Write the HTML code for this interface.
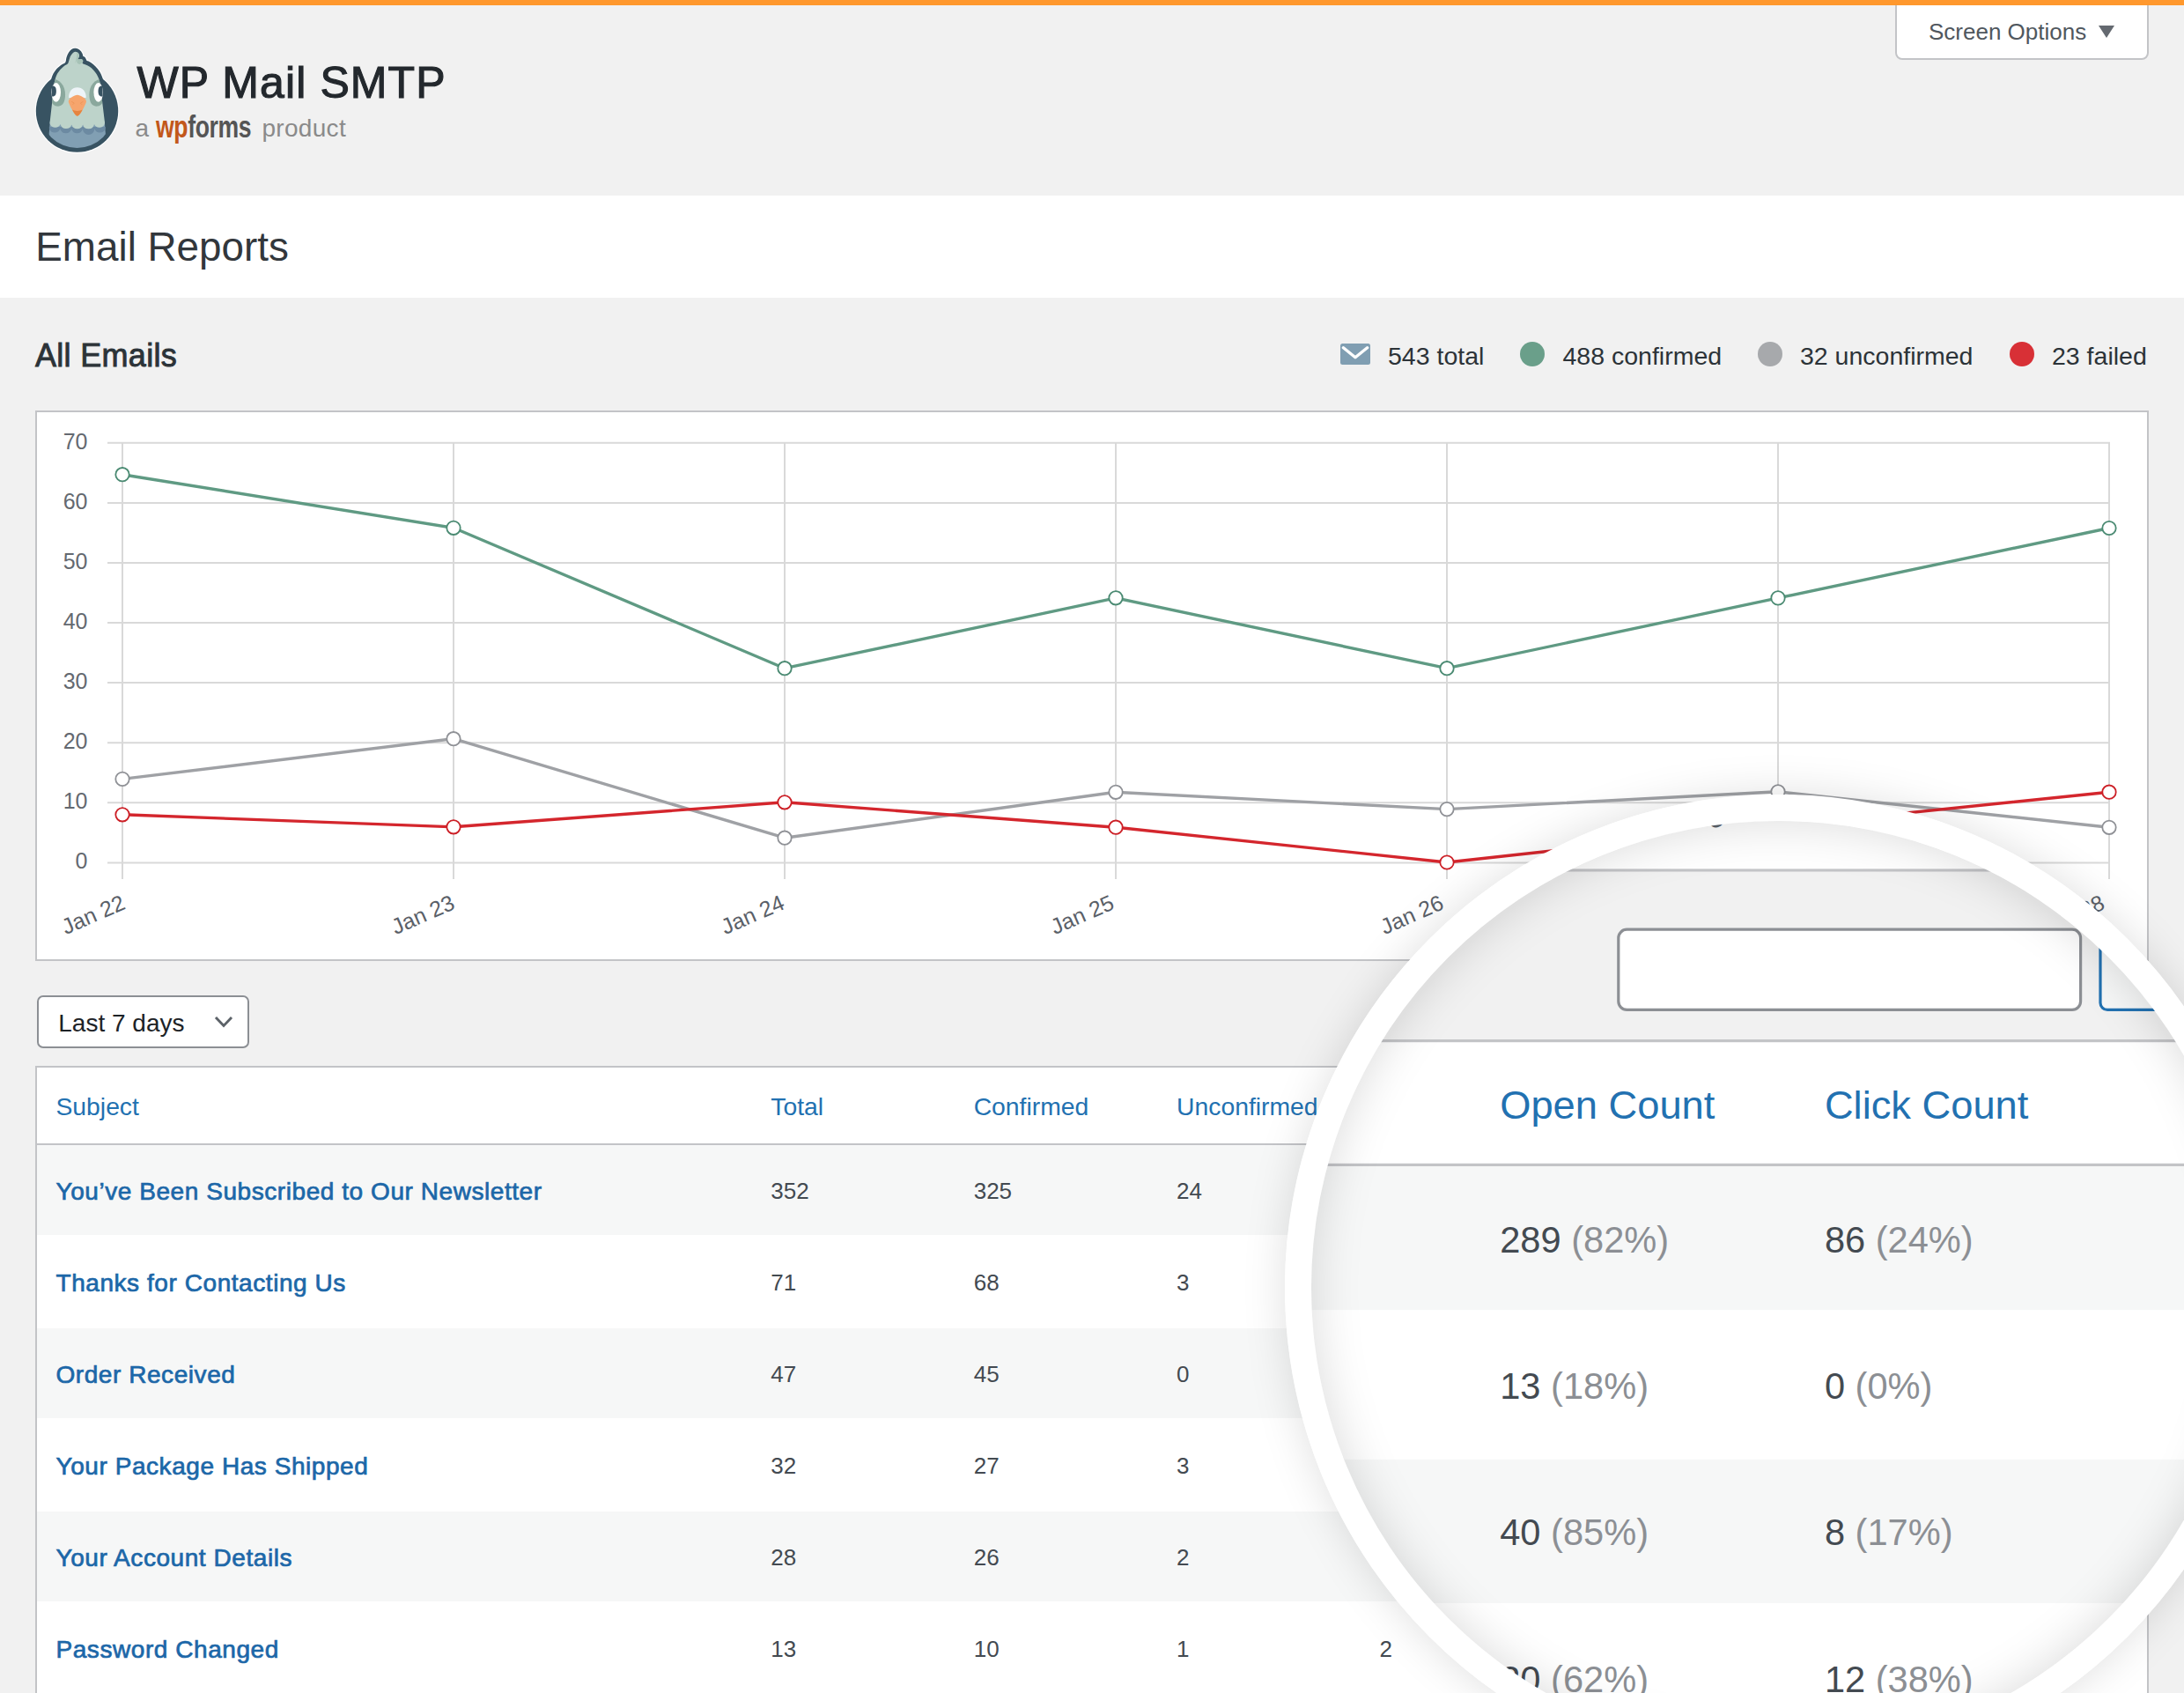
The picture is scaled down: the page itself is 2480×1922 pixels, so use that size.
<!DOCTYPE html>
<html lang="en"><head><meta charset="utf-8"><title>Email Reports - WP Mail SMTP</title>
<style>
html,body{margin:0;padding:0;background:#f1f1f1}
body{width:2480px;height:1922px;overflow:hidden;background:#f1f1f1;position:relative;font-family:"Liberation Sans",sans-serif;color:#434a51}
.t{position:absolute;white-space:nowrap}
.abs{position:absolute}
.page{position:absolute;left:0;top:0;width:2480px;height:1922px;background:#f1f1f1}
.b{color:#2271b1}
.sb{color:#1c67a8;-webkit-text-stroke:0.7px #1c67a8;letter-spacing:0.56px}
.g{color:#8c8f94}
</style></head>
<body>
<div class="page">
<div class="abs" style="left:0;top:0;width:2480px;height:6px;background:#ff982d"></div>
<div class="abs" style="left:2152px;top:-4px;width:288px;height:72px;box-sizing:border-box;border:2px solid #c3c4c7;border-radius:0 0 8px 8px;background:#fff"></div>
<div class="abs" style="left:0;top:0;width:2480px;height:6px;background:#ff982d"></div>
<div class="t" style="left:2190px;top:22.9px;font-size:26px;line-height:26px;color:#50575e">Screen Options</div>
<svg class="abs" style="left:2383px;top:29px" width="18" height="14" viewBox="0 0 18 14"><path d="M0 0H18L9 14Z" fill="#646970"/></svg>
<svg class="abs" style="left:20px;top:40px" width="140" height="150" viewBox="0 0 1580 1693">
<defs><clipPath id="pgc"><circle cx="762" cy="972" r="472"/></clipPath>
<clipPath id="pgh"><path d="M471 605C476 590 486 540 499 513C512 486 530 461 547 441C564 421 583 406 599 393C615 380 633 377 643 365C653 353 653 338 659 321C665 304 671 280 679 265C687 250 698 238 707 229C716 220 726 215 735 213C744 211 755 214 763 217C771 220 778 226 783 233C788 240 790 249 791 257C792 265 790 273 787 281C784 289 770 300 771 305C772 310 784 309 791 309C798 309 808 304 815 305C822 306 831 312 835 317C839 322 840 330 839 337C838 344 828 351 831 357C834 363 844 366 859 373C874 380 900 389 919 401C938 413 956 429 971 445C986 461 1000 479 1011 497C1022 515 1032 535 1039 553C1046 571 1052 596 1055 605L1118 1125A72 72 0 0 1 982 1140A75 75 0 0 1 836 1145A75 75 0 0 1 692 1145A75 75 0 0 1 548 1140A72 72 0 0 1 412 1125Z"/></clipPath></defs>
<g stroke="#fff" stroke-width="26" stroke-linejoin="round" fill="#fff">
<circle cx="762" cy="972" r="527"/>
<path d="M400 720C402 707 410 662 415 640C420 618 422 606 427 585C432 564 435 538 447 513C459 488 480 456 499 433C518 410 544 391 563 377C582 363 600 365 611 349C622 333 620 302 627 281C634 260 644 238 655 221C666 204 678 190 691 181C704 172 720 168 735 167C750 166 766 170 779 177C792 184 806 197 815 209C824 221 831 239 835 249C839 259 834 264 839 269C844 274 856 274 863 281C870 288 875 302 879 309C883 316 877 318 887 325C897 332 920 336 939 349C958 362 980 382 999 401C1018 420 1037 443 1051 465C1065 487 1075 513 1083 533C1091 553 1094 567 1099 585C1104 603 1108 618 1112 640C1116 662 1123 707 1125 720Z"/>
</g>
<circle cx="762" cy="972" r="527" fill="#385362"/>
<path d="M400 720C402 707 410 662 415 640C420 618 422 606 427 585C432 564 435 538 447 513C459 488 480 456 499 433C518 410 544 391 563 377C582 363 600 365 611 349C622 333 620 302 627 281C634 260 644 238 655 221C666 204 678 190 691 181C704 172 720 168 735 167C750 166 766 170 779 177C792 184 806 197 815 209C824 221 831 239 835 249C839 259 834 264 839 269C844 274 856 274 863 281C870 288 875 302 879 309C883 316 877 318 887 325C897 332 920 336 939 349C958 362 980 382 999 401C1018 420 1037 443 1051 465C1065 487 1075 513 1083 533C1091 553 1094 567 1099 585C1104 603 1108 618 1112 640C1116 662 1123 707 1125 720Z" fill="#385362"/>
<g clip-path="url(#pgc)">
<path d="M415 1100L385 1500H1145L1115 1100Z" fill="#819fb3"/>
<path d="M405 1145H1125V1170A75 75 0 0 1 985 1170A75 75 0 0 1 835 1170A75 75 0 0 1 690 1170A75 75 0 0 1 545 1170A75 75 0 0 1 405 1170Z" transform="translate(0 30)" fill="#6c8aa2"/>
</g>
<path d="M471 605C476 590 486 540 499 513C512 486 530 461 547 441C564 421 583 406 599 393C615 380 633 377 643 365C653 353 653 338 659 321C665 304 671 280 679 265C687 250 698 238 707 229C716 220 726 215 735 213C744 211 755 214 763 217C771 220 778 226 783 233C788 240 790 249 791 257C792 265 790 273 787 281C784 289 770 300 771 305C772 310 784 309 791 309C798 309 808 304 815 305C822 306 831 312 835 317C839 322 840 330 839 337C838 344 828 351 831 357C834 363 844 366 859 373C874 380 900 389 919 401C938 413 956 429 971 445C986 461 1000 479 1011 497C1022 515 1032 535 1039 553C1046 571 1052 596 1055 605L1118 1125A72 72 0 0 1 982 1140A75 75 0 0 1 836 1145A75 75 0 0 1 692 1145A75 75 0 0 1 548 1140A72 72 0 0 1 412 1125Z" fill="#bdd3ca"/>
<path d="M771 305C791 309 815 305 835 317C839 337 831 357 800 372C770 372 745 350 771 305Z" fill="#a6c2b6"/>
<path d="M760 222C790 235 795 275 771 305C760 320 745 345 735 360C745 320 765 270 760 222Z" fill="#a9c5b9"/>
<g>
<path d="M440 560C540 560 610 650 610 760C610 850 580 910 520 910C470 910 430 880 430 800Z" fill="#8aa89d" clip-path="url(#pgh)"/>
<path d="M1088 560C988 560 918 650 918 760C918 850 948 910 1008 910C1058 910 1098 880 1098 800Z" fill="#8aa89d" clip-path="url(#pgh)"/>
<ellipse cx="493" cy="732" rx="60" ry="122" fill="#fff"/>
<ellipse cx="1035" cy="732" rx="60" ry="122" fill="#fff"/>
<path d="M438 650C480 645 495 670 495 718C495 765 480 790 438 785Z" fill="#385362"/>
<path d="M1090 650C1048 645 1033 670 1033 718C1033 765 1048 790 1090 785Z" fill="#385362"/>
</g>
<path d="M655 800C655 720 700 670 765 670C830 670 878 720 878 800Z" fill="#eef4f8"/>
<path d="M765 765C800 765 880 810 880 850C880 870 800 1035 765 1035C730 1035 652 870 652 850C652 810 730 765 765 765Z" fill="#f6a56d"/>
<path d="M700 955C730 975 800 975 832 955C810 1000 785 1035 765 1035C745 1035 722 1000 700 955Z" fill="#e5843f"/>
<path d="M690 850L725 870L705 890M840 850L805 870L825 890" stroke="#ec9457" stroke-width="10" fill="none"/>
</svg>

<div class="t" style="left:155.5px;top:69.1px;font-size:50px;line-height:50px;color:#23282d;letter-spacing:1.1px;-webkit-text-stroke:1.1px #23282d">WP Mail SMTP</div>
<div class="t" style="left:153.5px;top:132.2px;font-size:28px;line-height:28px;color:#8a8a8a">a</div>
<div class="t" style="left:177px;top:126.3px;font-size:35px;line-height:35px;font-weight:bold;transform-origin:0 0;transform:scaleX(0.76);letter-spacing:-0.5px"><span style="color:#c2571a">wp</span><span style="color:#555">forms</span></div>
<div class="t" style="left:297.5px;top:132.2px;font-size:28px;line-height:28px;color:#8a8a8a;letter-spacing:0.3px">product</div>
<div class="abs" style="left:0;top:222px;width:2480px;height:116px;background:#fff"></div>
<div class="t" style="left:40.3px;top:258.0px;font-size:45.8px;line-height:45.8px;color:#32373c">Email Reports</div>
<div class="t" style="left:40px;top:385.8px;font-size:36px;line-height:36px;color:#2c3338;-webkit-text-stroke:0.9px #2c3338;letter-spacing:0.3px">All Emails</div>
<svg class="abs" style="left:1522px;top:390px" width="34" height="24" viewBox="0 0 34 24"><rect width="34" height="24" rx="2.5" fill="#809eb2"/><path d="M3.4 4.7L17 15.7L30.6 4.7" fill="none" stroke="#fff" stroke-width="3.4" stroke-linecap="round" stroke-linejoin="round"/></svg>
<div class="t" style="left:1576px;top:389.7px;font-size:28.5px;line-height:28.5px;color:#2c3338">543 total</div>
<div class="abs" style="left:1726px;top:388px;width:28px;height:28px;border-radius:50%;background:#6a9f8a"></div>
<div class="t" style="left:1774.5px;top:389.7px;font-size:28.5px;line-height:28.5px;color:#2c3338">488 confirmed</div>
<div class="abs" style="left:1996px;top:388px;width:28px;height:28px;border-radius:50%;background:#a7a9ac"></div>
<div class="t" style="left:2044px;top:389.7px;font-size:28.5px;line-height:28.5px;color:#2c3338">32 unconfirmed</div>
<div class="abs" style="left:2282px;top:388px;width:28px;height:28px;border-radius:50%;background:#d83036"></div>
<div class="t" style="left:2330px;top:389.7px;font-size:28.5px;line-height:28.5px;color:#2c3338">23 failed</div>
<div class="abs" style="left:40px;top:466px;width:2400px;height:625px;box-sizing:border-box;border:2px solid #c3c4c7;background:#fff"></div>
<svg class="abs" style="left:40px;top:466px;overflow:visible" width="2400" height="625" viewBox="40 466 2400 625" font-family="Liberation Sans, sans-serif">
<path d="M122 979.4H2396 M122 911.3H2396 M122 843.2H2396 M122 775.1H2396 M122 707.1H2396 M122 639.0H2396 M122 570.9H2396 M122 502.8H2396 M139 501.8V998 M515 501.8V998 M891 501.8V998 M1267 501.8V998 M1643 501.8V998 M2019 501.8V998 M2395 501.8V998" stroke="#d9d9d9" stroke-width="2" fill="none"/>
<text x="99.5" y="986.2" font-size="25" fill="#646970" text-anchor="end">0</text>
<text x="99.5" y="918.1" font-size="25" fill="#646970" text-anchor="end">10</text>
<text x="99.5" y="850.0" font-size="25" fill="#646970" text-anchor="end">20</text>
<text x="99.5" y="781.9" font-size="25" fill="#646970" text-anchor="end">30</text>
<text x="99.5" y="713.9" font-size="25" fill="#646970" text-anchor="end">40</text>
<text x="99.5" y="645.8" font-size="25" fill="#646970" text-anchor="end">50</text>
<text x="99.5" y="577.7" font-size="25" fill="#646970" text-anchor="end">60</text>
<text x="99.5" y="509.6" font-size="25" fill="#646970" text-anchor="end">70</text>
<text transform="translate(143.7 1031.2) rotate(-23.5)" font-size="25" fill="#5a6068" text-anchor="end">Jan 22</text>
<text transform="translate(518.0 1031.2) rotate(-23.5)" font-size="25" fill="#5a6068" text-anchor="end">Jan 23</text>
<text transform="translate(892.4 1031.2) rotate(-23.5)" font-size="25" fill="#5a6068" text-anchor="end">Jan 24</text>
<text transform="translate(1266.7 1031.2) rotate(-23.5)" font-size="25" fill="#5a6068" text-anchor="end">Jan 25</text>
<text transform="translate(1641.1 1031.2) rotate(-23.5)" font-size="25" fill="#5a6068" text-anchor="end">Jan 26</text>
<text transform="translate(2016.0 1031.2) rotate(-23.5)" font-size="25" fill="#5a6068" text-anchor="end">Jan 27</text>
<text transform="translate(2391.6 1031.2) rotate(-23.5)" font-size="25" fill="#5a6068" text-anchor="end">Jan 28</text>
<polyline points="139,884.4 515,838.7 891,951.2 1267,899.3 1643,918.6 2019,898.8 2395,939.3" fill="none" stroke="#9fa1a5" stroke-width="3.4" stroke-linejoin="round"/>
<polyline points="139,924.8 515,938.8 891,910.8 1267,939.2 1643,979.0 2019,938.0 2395,899.2" fill="none" stroke="#d4262d" stroke-width="3.4" stroke-linejoin="round"/>
<polyline points="139,538.7 515,599.3 891,758.7 1267,678.8 1643,758.7 2019,678.9 2395,599.5" fill="none" stroke="#5f9a83" stroke-width="3.4" stroke-linejoin="round"/>
<circle cx="139" cy="884.4" r="7.7" fill="#fff" stroke="#8f9196" stroke-width="1.8"/>
<circle cx="515" cy="838.7" r="7.7" fill="#fff" stroke="#8f9196" stroke-width="1.8"/>
<circle cx="891" cy="951.2" r="7.7" fill="#fff" stroke="#8f9196" stroke-width="1.8"/>
<circle cx="1267" cy="899.3" r="7.7" fill="#fff" stroke="#8f9196" stroke-width="1.8"/>
<circle cx="1643" cy="918.6" r="7.7" fill="#fff" stroke="#8f9196" stroke-width="1.8"/>
<circle cx="2019" cy="898.8" r="7.7" fill="#fff" stroke="#8f9196" stroke-width="1.8"/>
<circle cx="2395" cy="939.3" r="7.7" fill="#fff" stroke="#8f9196" stroke-width="1.8"/>
<circle cx="139" cy="924.8" r="7.7" fill="#fff" stroke="#cc1f26" stroke-width="1.8"/>
<circle cx="515" cy="938.8" r="7.7" fill="#fff" stroke="#cc1f26" stroke-width="1.8"/>
<circle cx="891" cy="910.8" r="7.7" fill="#fff" stroke="#cc1f26" stroke-width="1.8"/>
<circle cx="1267" cy="939.2" r="7.7" fill="#fff" stroke="#cc1f26" stroke-width="1.8"/>
<circle cx="1643" cy="979.0" r="7.7" fill="#fff" stroke="#cc1f26" stroke-width="1.8"/>
<circle cx="2019" cy="938.0" r="7.7" fill="#fff" stroke="#cc1f26" stroke-width="1.8"/>
<circle cx="2395" cy="899.2" r="7.7" fill="#fff" stroke="#cc1f26" stroke-width="1.8"/>
<circle cx="139" cy="538.7" r="7.7" fill="#fff" stroke="#4a8a72" stroke-width="1.8"/>
<circle cx="515" cy="599.3" r="7.7" fill="#fff" stroke="#4a8a72" stroke-width="1.8"/>
<circle cx="891" cy="758.7" r="7.7" fill="#fff" stroke="#4a8a72" stroke-width="1.8"/>
<circle cx="1267" cy="678.8" r="7.7" fill="#fff" stroke="#4a8a72" stroke-width="1.8"/>
<circle cx="1643" cy="758.7" r="7.7" fill="#fff" stroke="#4a8a72" stroke-width="1.8"/>
<circle cx="2019" cy="678.9" r="7.7" fill="#fff" stroke="#4a8a72" stroke-width="1.8"/>
<circle cx="2395" cy="599.5" r="7.7" fill="#fff" stroke="#4a8a72" stroke-width="1.8"/>
</svg>
<div class="abs" style="left:42px;top:1130px;width:241px;height:60px;box-sizing:border-box;border:2px solid #8c8f94;border-radius:7px;background:#fff"></div>
<div class="t" style="left:66.3px;top:1147.7px;font-size:28px;line-height:28px;color:#1d2327">Last 7 days</div>
<svg class="abs" style="left:242px;top:1152px" width="24" height="16" viewBox="0 0 24 16"><path d="M3 3L12 12.5L21 3" fill="none" stroke="#5c6268" stroke-width="2.9"/></svg>
<div class="abs" style="left:1880px;top:1130.5px;width:330px;height:59px;box-sizing:border-box;border:2px solid #8c8f94;border-radius:7px;background:#fff"></div>
<div class="abs" style="left:2222px;top:1130.5px;width:218px;height:59px;box-sizing:border-box;border:2px solid #2271b1;border-radius:6px;background:#f6f7f7"></div>
<div class="t" style="left:2262px;top:1148.5px;font-size:26px;line-height:26px;color:#2271b1">Search Emails</div>
<div class="abs" style="left:40px;top:1210px;width:2400px;height:760px;box-sizing:border-box;border:2px solid #c3c4c7;background:#fff"></div>
<div class="abs" style="left:42px;top:1298px;width:2396px;height:2px;background:#c3c4c7"></div>
<div class="abs" style="left:42px;top:1300px;width:2396px;height:102px;background:#f6f7f7"></div>
<div class="abs" style="left:42px;top:1508px;width:2396px;height:102px;background:#f6f7f7"></div>
<div class="abs" style="left:42px;top:1716px;width:2396px;height:102px;background:#f6f7f7"></div>
<div class="t b" style="left:63.5px;top:1242.2px;font-size:28.3px;line-height:28.3px;">Subject</div>
<div class="t b" style="left:875.3px;top:1242.2px;font-size:28.3px;line-height:28.3px;">Total</div>
<div class="t b" style="left:1105.7px;top:1242.2px;font-size:28.3px;line-height:28.3px;">Confirmed</div>
<div class="t b" style="left:1336.1px;top:1242.2px;font-size:28.3px;line-height:28.3px;">Unconfirmed</div>
<div class="t b" style="left:1566.5px;top:1242.2px;font-size:28.3px;line-height:28.3px;">Failed</div>
<div class="t b" style="left:1796.9px;top:1242.2px;font-size:28.3px;line-height:28.3px;">Open Count</div>
<div class="t b" style="left:2027.3px;top:1242.2px;font-size:28.3px;line-height:28.3px;">Click Count</div>
<div class="t sb" style="left:63.5px;top:1338.9px;font-size:28px;line-height:28px;">You’ve Been Subscribed to Our Newsletter</div>
<div class="t" style="left:875.3px;top:1338.8px;font-size:26px;line-height:26px;">352</div>
<div class="t" style="left:1105.7px;top:1338.8px;font-size:26px;line-height:26px;">325</div>
<div class="t" style="left:1336.1px;top:1338.8px;font-size:26px;line-height:26px;">24</div>
<div class="t" style="left:1566.5px;top:1338.8px;font-size:26px;line-height:26px;">3</div>
<div class="t" style="left:1796.9px;top:1338.8px;font-size:26px;line-height:26px;">289 <span class="g">(82%)</span></div>
<div class="t" style="left:2027.3px;top:1338.8px;font-size:26px;line-height:26px;">86 <span class="g">(24%)</span></div>
<div class="t sb" style="left:63.5px;top:1442.9px;font-size:28px;line-height:28px;">Thanks for Contacting Us</div>
<div class="t" style="left:875.3px;top:1442.8px;font-size:26px;line-height:26px;">71</div>
<div class="t" style="left:1105.7px;top:1442.8px;font-size:26px;line-height:26px;">68</div>
<div class="t" style="left:1336.1px;top:1442.8px;font-size:26px;line-height:26px;">3</div>
<div class="t" style="left:1566.5px;top:1442.8px;font-size:26px;line-height:26px;">0</div>
<div class="t" style="left:1796.9px;top:1442.8px;font-size:26px;line-height:26px;">13 <span class="g">(18%)</span></div>
<div class="t" style="left:2027.3px;top:1442.8px;font-size:26px;line-height:26px;">0 <span class="g">(0%)</span></div>
<div class="t sb" style="left:63.5px;top:1546.9px;font-size:28px;line-height:28px;">Order Received</div>
<div class="t" style="left:875.3px;top:1546.8px;font-size:26px;line-height:26px;">47</div>
<div class="t" style="left:1105.7px;top:1546.8px;font-size:26px;line-height:26px;">45</div>
<div class="t" style="left:1336.1px;top:1546.8px;font-size:26px;line-height:26px;">0</div>
<div class="t" style="left:1566.5px;top:1546.8px;font-size:26px;line-height:26px;">2</div>
<div class="t" style="left:1796.9px;top:1546.8px;font-size:26px;line-height:26px;">40 <span class="g">(85%)</span></div>
<div class="t" style="left:2027.3px;top:1546.8px;font-size:26px;line-height:26px;">8 <span class="g">(17%)</span></div>
<div class="t sb" style="left:63.5px;top:1650.9px;font-size:28px;line-height:28px;">Your Package Has Shipped</div>
<div class="t" style="left:875.3px;top:1650.8px;font-size:26px;line-height:26px;">32</div>
<div class="t" style="left:1105.7px;top:1650.8px;font-size:26px;line-height:26px;">27</div>
<div class="t" style="left:1336.1px;top:1650.8px;font-size:26px;line-height:26px;">3</div>
<div class="t" style="left:1566.5px;top:1650.8px;font-size:26px;line-height:26px;">2</div>
<div class="t" style="left:1796.9px;top:1650.8px;font-size:26px;line-height:26px;">20 <span class="g">(62%)</span></div>
<div class="t" style="left:2027.3px;top:1650.8px;font-size:26px;line-height:26px;">12 <span class="g">(38%)</span></div>
<div class="t sb" style="left:63.5px;top:1754.9px;font-size:28px;line-height:28px;">Your Account Details</div>
<div class="t" style="left:875.3px;top:1754.8px;font-size:26px;line-height:26px;">28</div>
<div class="t" style="left:1105.7px;top:1754.8px;font-size:26px;line-height:26px;">26</div>
<div class="t" style="left:1336.1px;top:1754.8px;font-size:26px;line-height:26px;">2</div>
<div class="t" style="left:1566.5px;top:1754.8px;font-size:26px;line-height:26px;">0</div>
<div class="t" style="left:1796.9px;top:1754.8px;font-size:26px;line-height:26px;">19 <span class="g">(68%)</span></div>
<div class="t" style="left:2027.3px;top:1754.8px;font-size:26px;line-height:26px;">7 <span class="g">(25%)</span></div>
<div class="t sb" style="left:63.5px;top:1858.9px;font-size:28px;line-height:28px;">Password Changed</div>
<div class="t" style="left:875.3px;top:1858.8px;font-size:26px;line-height:26px;">13</div>
<div class="t" style="left:1105.7px;top:1858.8px;font-size:26px;line-height:26px;">10</div>
<div class="t" style="left:1336.1px;top:1858.8px;font-size:26px;line-height:26px;">1</div>
<div class="t" style="left:1566.5px;top:1858.8px;font-size:26px;line-height:26px;">2</div>
<div class="t" style="left:1796.9px;top:1858.8px;font-size:26px;line-height:26px;">6 <span class="g">(46%)</span></div>
<div class="t" style="left:2027.3px;top:1858.8px;font-size:26px;line-height:26px;">1 <span class="g">(8%)</span></div>
</div>
<div class="abs" style="left:1459.4px;top:901.5px;width:1120.6px;height:1120.6px;border-radius:50%;box-shadow:0 0 50px rgba(0,0,0,0.13)"></div>
<div class="abs" style="left:1459.4px;top:901.5px;width:1120.6px;height:1120.6px;box-sizing:border-box;border:30px solid #fff;border-radius:50%;overflow:hidden;background:#f1f1f1">
<div class="page" style="left:-1489.4px;top:-931.5px;transform-origin:1953px 1260px;transform:scale(1.6)">
<div class="abs" style="left:40px;top:466px;width:2400px;height:625px;box-sizing:border-box;border:2px solid #c3c4c7;background:#fff"></div>
<svg class="abs" style="left:40px;top:466px;overflow:visible" width="2400" height="625" viewBox="40 466 2400 625" font-family="Liberation Sans, sans-serif">
<path d="M122 979.4H2396 M122 911.3H2396 M122 843.2H2396 M122 775.1H2396 M122 707.1H2396 M122 639.0H2396 M122 570.9H2396 M122 502.8H2396 M139 501.8V998 M515 501.8V998 M891 501.8V998 M1267 501.8V998 M1643 501.8V998 M2019 501.8V998 M2395 501.8V998" stroke="#d9d9d9" stroke-width="2" fill="none"/>
<text x="99.5" y="986.2" font-size="25" fill="#646970" text-anchor="end">0</text>
<text x="99.5" y="918.1" font-size="25" fill="#646970" text-anchor="end">10</text>
<text x="99.5" y="850.0" font-size="25" fill="#646970" text-anchor="end">20</text>
<text x="99.5" y="781.9" font-size="25" fill="#646970" text-anchor="end">30</text>
<text x="99.5" y="713.9" font-size="25" fill="#646970" text-anchor="end">40</text>
<text x="99.5" y="645.8" font-size="25" fill="#646970" text-anchor="end">50</text>
<text x="99.5" y="577.7" font-size="25" fill="#646970" text-anchor="end">60</text>
<text x="99.5" y="509.6" font-size="25" fill="#646970" text-anchor="end">70</text>
<text transform="translate(143.7 1031.2) rotate(-23.5)" font-size="25" fill="#5a6068" text-anchor="end">Jan 22</text>
<text transform="translate(518.0 1031.2) rotate(-23.5)" font-size="25" fill="#5a6068" text-anchor="end">Jan 23</text>
<text transform="translate(892.4 1031.2) rotate(-23.5)" font-size="25" fill="#5a6068" text-anchor="end">Jan 24</text>
<text transform="translate(1266.7 1031.2) rotate(-23.5)" font-size="25" fill="#5a6068" text-anchor="end">Jan 25</text>
<text transform="translate(1641.1 1031.2) rotate(-23.5)" font-size="25" fill="#5a6068" text-anchor="end">Jan 26</text>
<text transform="translate(2016.0 1031.2) rotate(-23.5)" font-size="25" fill="#5a6068" text-anchor="end">Jan 27</text>
<text transform="translate(2391.6 1031.2) rotate(-23.5)" font-size="25" fill="#5a6068" text-anchor="end">Jan 28</text>
<polyline points="139,884.4 515,838.7 891,951.2 1267,899.3 1643,918.6 2019,898.8 2395,939.3" fill="none" stroke="#9fa1a5" stroke-width="3.4" stroke-linejoin="round"/>
<polyline points="139,924.8 515,938.8 891,910.8 1267,939.2 1643,979.0 2019,938.0 2395,899.2" fill="none" stroke="#d4262d" stroke-width="3.4" stroke-linejoin="round"/>
<polyline points="139,538.7 515,599.3 891,758.7 1267,678.8 1643,758.7 2019,678.9 2395,599.5" fill="none" stroke="#5f9a83" stroke-width="3.4" stroke-linejoin="round"/>
<circle cx="139" cy="884.4" r="7.7" fill="#fff" stroke="#8f9196" stroke-width="1.8"/>
<circle cx="515" cy="838.7" r="7.7" fill="#fff" stroke="#8f9196" stroke-width="1.8"/>
<circle cx="891" cy="951.2" r="7.7" fill="#fff" stroke="#8f9196" stroke-width="1.8"/>
<circle cx="1267" cy="899.3" r="7.7" fill="#fff" stroke="#8f9196" stroke-width="1.8"/>
<circle cx="1643" cy="918.6" r="7.7" fill="#fff" stroke="#8f9196" stroke-width="1.8"/>
<circle cx="2019" cy="898.8" r="7.7" fill="#fff" stroke="#8f9196" stroke-width="1.8"/>
<circle cx="2395" cy="939.3" r="7.7" fill="#fff" stroke="#8f9196" stroke-width="1.8"/>
<circle cx="139" cy="924.8" r="7.7" fill="#fff" stroke="#cc1f26" stroke-width="1.8"/>
<circle cx="515" cy="938.8" r="7.7" fill="#fff" stroke="#cc1f26" stroke-width="1.8"/>
<circle cx="891" cy="910.8" r="7.7" fill="#fff" stroke="#cc1f26" stroke-width="1.8"/>
<circle cx="1267" cy="939.2" r="7.7" fill="#fff" stroke="#cc1f26" stroke-width="1.8"/>
<circle cx="1643" cy="979.0" r="7.7" fill="#fff" stroke="#cc1f26" stroke-width="1.8"/>
<circle cx="2019" cy="938.0" r="7.7" fill="#fff" stroke="#cc1f26" stroke-width="1.8"/>
<circle cx="2395" cy="899.2" r="7.7" fill="#fff" stroke="#cc1f26" stroke-width="1.8"/>
<circle cx="139" cy="538.7" r="7.7" fill="#fff" stroke="#4a8a72" stroke-width="1.8"/>
<circle cx="515" cy="599.3" r="7.7" fill="#fff" stroke="#4a8a72" stroke-width="1.8"/>
<circle cx="891" cy="758.7" r="7.7" fill="#fff" stroke="#4a8a72" stroke-width="1.8"/>
<circle cx="1267" cy="678.8" r="7.7" fill="#fff" stroke="#4a8a72" stroke-width="1.8"/>
<circle cx="1643" cy="758.7" r="7.7" fill="#fff" stroke="#4a8a72" stroke-width="1.8"/>
<circle cx="2019" cy="678.9" r="7.7" fill="#fff" stroke="#4a8a72" stroke-width="1.8"/>
<circle cx="2395" cy="599.5" r="7.7" fill="#fff" stroke="#4a8a72" stroke-width="1.8"/>
</svg>
<div class="abs" style="left:42px;top:1130px;width:241px;height:60px;box-sizing:border-box;border:2px solid #8c8f94;border-radius:7px;background:#fff"></div>
<div class="t" style="left:66.3px;top:1147.7px;font-size:28px;line-height:28px;color:#1d2327">Last 7 days</div>
<svg class="abs" style="left:242px;top:1152px" width="24" height="16" viewBox="0 0 24 16"><path d="M3 3L12 12.5L21 3" fill="none" stroke="#5c6268" stroke-width="2.9"/></svg>
<div class="abs" style="left:1880px;top:1130.5px;width:330px;height:59px;box-sizing:border-box;border:2px solid #8c8f94;border-radius:7px;background:#fff"></div>
<div class="abs" style="left:2222px;top:1130.5px;width:218px;height:59px;box-sizing:border-box;border:2px solid #2271b1;border-radius:6px;background:#f6f7f7"></div>
<div class="t" style="left:2262px;top:1148.5px;font-size:26px;line-height:26px;color:#2271b1">Search Emails</div>
<div class="abs" style="left:40px;top:1210px;width:2400px;height:760px;box-sizing:border-box;border:2px solid #c3c4c7;background:#fff"></div>
<div class="abs" style="left:42px;top:1298px;width:2396px;height:2px;background:#c3c4c7"></div>
<div class="abs" style="left:42px;top:1300px;width:2396px;height:102px;background:#f6f7f7"></div>
<div class="abs" style="left:42px;top:1508px;width:2396px;height:102px;background:#f6f7f7"></div>
<div class="abs" style="left:42px;top:1716px;width:2396px;height:102px;background:#f6f7f7"></div>
<div class="t b" style="left:63.5px;top:1242.2px;font-size:28.3px;line-height:28.3px;">Subject</div>
<div class="t b" style="left:875.3px;top:1242.2px;font-size:28.3px;line-height:28.3px;">Total</div>
<div class="t b" style="left:1105.7px;top:1242.2px;font-size:28.3px;line-height:28.3px;">Confirmed</div>
<div class="t b" style="left:1336.1px;top:1242.2px;font-size:28.3px;line-height:28.3px;">Unconfirmed</div>
<div class="t b" style="left:1566.5px;top:1242.2px;font-size:28.3px;line-height:28.3px;">Failed</div>
<div class="t b" style="left:1796.9px;top:1242.2px;font-size:28.3px;line-height:28.3px;">Open Count</div>
<div class="t b" style="left:2027.3px;top:1242.2px;font-size:28.3px;line-height:28.3px;">Click Count</div>
<div class="t sb" style="left:63.5px;top:1338.9px;font-size:28px;line-height:28px;">You’ve Been Subscribed to Our Newsletter</div>
<div class="t" style="left:875.3px;top:1338.8px;font-size:26px;line-height:26px;">352</div>
<div class="t" style="left:1105.7px;top:1338.8px;font-size:26px;line-height:26px;">325</div>
<div class="t" style="left:1336.1px;top:1338.8px;font-size:26px;line-height:26px;">24</div>
<div class="t" style="left:1566.5px;top:1338.8px;font-size:26px;line-height:26px;">3</div>
<div class="t" style="left:1796.9px;top:1338.8px;font-size:26px;line-height:26px;">289 <span class="g">(82%)</span></div>
<div class="t" style="left:2027.3px;top:1338.8px;font-size:26px;line-height:26px;">86 <span class="g">(24%)</span></div>
<div class="t sb" style="left:63.5px;top:1442.9px;font-size:28px;line-height:28px;">Thanks for Contacting Us</div>
<div class="t" style="left:875.3px;top:1442.8px;font-size:26px;line-height:26px;">71</div>
<div class="t" style="left:1105.7px;top:1442.8px;font-size:26px;line-height:26px;">68</div>
<div class="t" style="left:1336.1px;top:1442.8px;font-size:26px;line-height:26px;">3</div>
<div class="t" style="left:1566.5px;top:1442.8px;font-size:26px;line-height:26px;">0</div>
<div class="t" style="left:1796.9px;top:1442.8px;font-size:26px;line-height:26px;">13 <span class="g">(18%)</span></div>
<div class="t" style="left:2027.3px;top:1442.8px;font-size:26px;line-height:26px;">0 <span class="g">(0%)</span></div>
<div class="t sb" style="left:63.5px;top:1546.9px;font-size:28px;line-height:28px;">Order Received</div>
<div class="t" style="left:875.3px;top:1546.8px;font-size:26px;line-height:26px;">47</div>
<div class="t" style="left:1105.7px;top:1546.8px;font-size:26px;line-height:26px;">45</div>
<div class="t" style="left:1336.1px;top:1546.8px;font-size:26px;line-height:26px;">0</div>
<div class="t" style="left:1566.5px;top:1546.8px;font-size:26px;line-height:26px;">2</div>
<div class="t" style="left:1796.9px;top:1546.8px;font-size:26px;line-height:26px;">40 <span class="g">(85%)</span></div>
<div class="t" style="left:2027.3px;top:1546.8px;font-size:26px;line-height:26px;">8 <span class="g">(17%)</span></div>
<div class="t sb" style="left:63.5px;top:1650.9px;font-size:28px;line-height:28px;">Your Package Has Shipped</div>
<div class="t" style="left:875.3px;top:1650.8px;font-size:26px;line-height:26px;">32</div>
<div class="t" style="left:1105.7px;top:1650.8px;font-size:26px;line-height:26px;">27</div>
<div class="t" style="left:1336.1px;top:1650.8px;font-size:26px;line-height:26px;">3</div>
<div class="t" style="left:1566.5px;top:1650.8px;font-size:26px;line-height:26px;">2</div>
<div class="t" style="left:1796.9px;top:1650.8px;font-size:26px;line-height:26px;">20 <span class="g">(62%)</span></div>
<div class="t" style="left:2027.3px;top:1650.8px;font-size:26px;line-height:26px;">12 <span class="g">(38%)</span></div>
<div class="t sb" style="left:63.5px;top:1754.9px;font-size:28px;line-height:28px;">Your Account Details</div>
<div class="t" style="left:875.3px;top:1754.8px;font-size:26px;line-height:26px;">28</div>
<div class="t" style="left:1105.7px;top:1754.8px;font-size:26px;line-height:26px;">26</div>
<div class="t" style="left:1336.1px;top:1754.8px;font-size:26px;line-height:26px;">2</div>
<div class="t" style="left:1566.5px;top:1754.8px;font-size:26px;line-height:26px;">0</div>
<div class="t" style="left:1796.9px;top:1754.8px;font-size:26px;line-height:26px;">19 <span class="g">(68%)</span></div>
<div class="t" style="left:2027.3px;top:1754.8px;font-size:26px;line-height:26px;">7 <span class="g">(25%)</span></div>
<div class="t sb" style="left:63.5px;top:1858.9px;font-size:28px;line-height:28px;">Password Changed</div>
<div class="t" style="left:875.3px;top:1858.8px;font-size:26px;line-height:26px;">13</div>
<div class="t" style="left:1105.7px;top:1858.8px;font-size:26px;line-height:26px;">10</div>
<div class="t" style="left:1336.1px;top:1858.8px;font-size:26px;line-height:26px;">1</div>
<div class="t" style="left:1566.5px;top:1858.8px;font-size:26px;line-height:26px;">2</div>
<div class="t" style="left:1796.9px;top:1858.8px;font-size:26px;line-height:26px;">6 <span class="g">(46%)</span></div>
<div class="t" style="left:2027.3px;top:1858.8px;font-size:26px;line-height:26px;">1 <span class="g">(8%)</span></div>
</div>
<div class="abs" style="left:0;top:0;right:0;bottom:0;border-radius:50%;box-shadow:inset 0 0 56px rgba(0,0,0,0.15)"></div>
</div>
</body></html>
